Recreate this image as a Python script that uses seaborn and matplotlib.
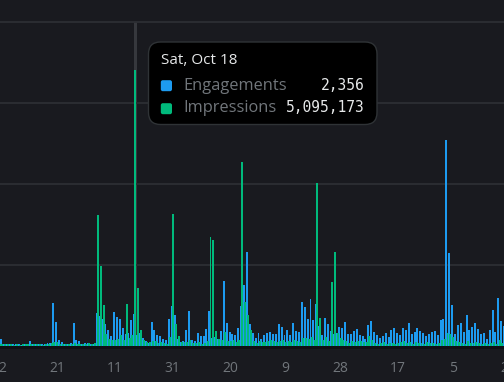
import pandas as pd
import matplotlib
matplotlib.use("Agg")
import matplotlib.pyplot as plt
import matplotlib.transforms as mtrans
import seaborn as sns
from matplotlib.patches import FancyBboxPatch, Rectangle

BG = "#191a1f"
GRID = "#2c2e33"
BLUE = "#1d9bf0"
GREEN = "#00ba7c"
MUTED = "#71767b"
WHITE = "#e7e9ea"

# ---- data (daily, from 2025-09-01) ----
start_date = "2025-09-01"
engagements = [
    112, 486, 104, 97, 81, 115, 76, 108, 69, 113,
    102, 322, 141, 78, 109, 83, 117, 152, 190, 3164,
    1705, 418, 247, 106, 118, 151, 1683, 421, 315, 146,
    153, 181, 114, 139, 2437, 2215, 1994, 1612, 1158, 736,
    2451, 2139, 1972, 1306, 871, 958, 1897, 2356, 744, 893,
    522, 366, 219, 1708, 1167, 788, 731, 492, 374, 1981,
    2893, 2224, 501, 289, 303, 1159, 2587, 427, 298, 914,
    738, 671, 1232, 2519, 588, 597, 514, 1106, 4742, 1697,
    967, 862, 745, 1261, 2954, 4518, 6951, 1603, 907, 521,
    958, 447, 795, 912, 1033, 869, 817, 1609, 1402, 789,
    1113, 796, 1698, 1041, 987, 3259, 2882, 1979, 3452, 1906,
    3083, 1477, 743, 2018, 1611, 1108, 884, 891, 1351, 1314,
    1772, 863, 868, 1107, 1186, 742, 737, 493, 1528, 1779,
    981, 744, 538, 691, 906, 617, 1158, 1283, 937, 795,
    1276, 1114, 1677, 869, 1032, 1307, 1039, 913, 736, 862,
    988, 1054, 797, 1898, 1982, 15218, 6857, 3015, 861, 1483,
    1648, 979, 2226, 1165, 1403, 1684, 1231, 868, 943, 499,
    1157, 2646, 986, 3504, 1847, 1472,
]
impressions = [
    27800, 37000, 26900, 19400, 27300, 18200, 28100, 17600, 26500, 19800,
    27100, 36400, 28900, 18900, 26200, 17900, 27600, 28300, 38100, 61200,
    55800, 29400, 27000, 18700, 26800, 27700, 38500, 28200, 26400, 27900,
    36800, 37500, 27400, 38900, 2420400, 1463000, 753700, 222200, 129600, 92600,
    93100, 129300, 185200, 111100, 772200, 148100, 185400, 5095173, 1068500, 290700,
    92600, 71800, 55600, 92400, 76300, 53500, 57900, 55200, 37000, 148200,
    2426000, 401900, 166700, 74000, 55600, 72200, 92700, 55400, 37100, 55700,
    36900, 37200, 74100, 2000100, 1944500, 259300, 129600, 111100, 259200, 92500,
    74200, 92800, 71000, 92600, 3389000, 796300, 555600, 277800, 74100, 55500,
    74300, 55600, 74000, 76200, 92600, 74100, 72400, 92500, 92700, 55600,
    74100, 55700, 92600, 74100, 74000, 129700, 148100, 111200, 148300, 111100,
    3013000, 513000, 92600, 148200, 74100, 1166700, 1727800, 240700, 148100, 92600,
    74100, 55500, 74200, 55600, 92500, 74100, 55600, 74000, 166700, 92600,
    55500, 37000, 37100, 55600, 37000, 37200, 55500, 36900, 37100, 55600,
    74100, 55500, 55700, 37000, 55600, 55400, 46300, 37000, 55600, 37100,
    46200, 37000, 55500, 92600, 129600, 240700, 222200, 148200, 74100, 55600,
    46300, 37000, 74100, 55500, 46200, 55600, 37100, 36900, 46300, 37000,
    46200, 55600, 37000, 92600, 55500, 46300,
]
tick_dates = ["2025-09-02", "2025-09-21", "2025-10-11", "2025-10-31", "2025-11-20",
              "2025-12-09", "2025-12-28", "2026-01-17", "2026-02-05", "2026-02-24"]
tick_labels = ["2", "21", "11", "31", "20", "9", "28", "17", "5", "24"]
hover_date = "2025-10-18"
hover_title = "Sat, Oct 18"

dates = pd.date_range(start_date, periods=len(engagements), freq="D")
df = pd.DataFrame({"date": dates, "Engagements": engagements, "Impressions": impressions})
df["day"] = (df["date"] - dates[0]).dt.days
df["x_eng"] = df["day"] - 0.25
df["x_imp"] = df["day"] + 0.15
tick_pos = (pd.to_datetime(tick_dates) - dates[0]).days
hover_idx = int((pd.Timestamp(hover_date) - dates[0]).days)

sns.set_theme(style="dark")
plt.rcParams["font.family"] = ["Open Sans", "DejaVu Sans"]

W, H = 504, 382
fig = plt.figure(figsize=(W / 100, H / 100), dpi=100, facecolor=BG)
ax = fig.add_axes([0, 36.5 / H, 1, 324 / H])
ax.set_facecolor(BG)
ax2 = ax.twinx()

# hover line
ax.axvline(hover_idx + 0.15, color="#36383d", lw=2.2, zorder=0.5)

sns.barplot(data=df, x="x_eng", y="Engagements", native_scale=True, width=0.68,
            color=BLUE, saturation=1, linewidth=0, errorbar=None, ax=ax, zorder=2)
sns.barplot(data=df, x="x_imp", y="Impressions", native_scale=True, width=0.68,
            color=GREEN, saturation=1, linewidth=0, errorbar=None, ax=ax2, zorder=2)

ax.set_ylim(0, 24000)
ax2.set_ylim(0, 6_000_000)
ax.set_xlim(0.31, 174.7)

ax.set_yticks([6000, 12000, 18000, 24000])
ax.yaxis.grid(True, color=GRID, lw=1.3)
for gl in ax.get_ygridlines():
    gl.set_clip_on(False)
ax.xaxis.grid(False)
ax.set_axisbelow(True)
ax.tick_params(axis="y", left=False, labelleft=False)
ax2.tick_params(axis="y", right=False, labelright=False)
ax.set_xticks([])
for a in (ax, ax2):
    a.set_xlabel("")
    a.set_ylabel("")
    for s in a.spines.values():
        s.set_visible(False)

# dark strip under baseline
ax.add_patch(Rectangle((0, -0.0105), 1, 0.0105, transform=ax.transAxes,
                       facecolor="#101115", edgecolor="none", clip_on=False))

# date labels
lab_tr = mtrans.offset_copy(ax.get_xaxis_transform(), fig=fig, y=-15, units="dots")
for p, lab in zip(tick_pos, tick_labels):
    ax.text(p, 0, lab, transform=lab_tr, ha="center", va="top",
            fontsize=10, color=MUTED, clip_on=False)

# ---- tooltip ----
px = mtrans.IdentityTransform()
fig.add_artist(FancyBboxPatch((148.5, H - 124.5), 228.5, 82.5,
                              boxstyle="round,pad=0,rounding_size=12", transform=px,
                              facecolor="#000000", edgecolor="#2f3336", lw=1, zorder=10))
for yy, c in [(91.2, BLUE), (114.2, GREEN)]:
    fig.add_artist(FancyBboxPatch((160.8, H - yy), 11.2, 11, boxstyle="round,pad=0,rounding_size=2",
                                  transform=px, facecolor=c, edgecolor="none", zorder=11))

def ftxt(x, y, s, **kw):
    fig.text(x / W, 1 - y / H, s, va="baseline", zorder=12, **kw)

ftxt(161, 64.3, hover_title, fontsize=11, color=WHITE)
ftxt(183.5, 90.2, "Engagements", fontsize=11.8, color=MUTED)
ftxt(183.5, 112.5, "Impressions", fontsize=11.8, color=MUTED)
ftxt(364.5, 90.2, f"{engagements[hover_idx]:,}", fontsize=10.5, color=WHITE,
     ha="right", family="DejaVu Sans Mono")
ftxt(364.5, 112.5, f"{impressions[hover_idx]:,}", fontsize=10.5, color=WHITE,
     ha="right", family="DejaVu Sans Mono")

fig.savefig("out.png", dpi=100, facecolor=BG)
